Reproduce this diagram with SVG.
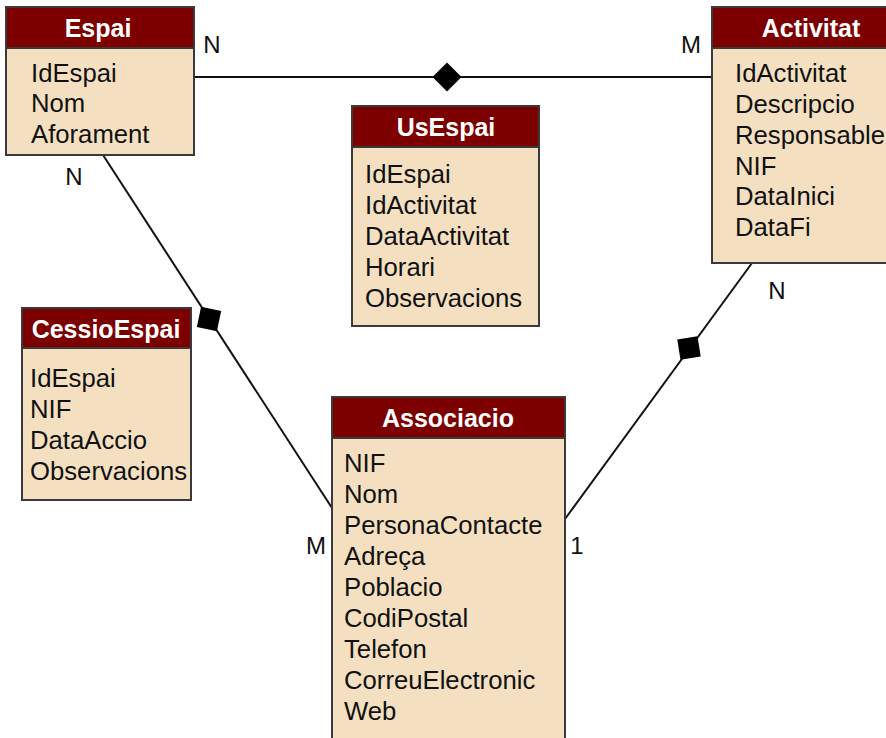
<svg xmlns="http://www.w3.org/2000/svg" width="886" height="738" viewBox="0 0 886 738">
  <style>
    .box { fill: #f4e0c1; stroke: #3a3a3a; stroke-width: 2; }
    .head { fill: #7d0000; stroke: #3a3a3a; stroke-width: 2; }
    .title { font-family: "Liberation Sans", Arial, sans-serif; font-size: 25px; font-weight: bold; fill: #ffffff; text-anchor: middle; }
    .attr { font-family: "Liberation Sans", Arial, sans-serif; font-size: 25.7px; fill: #111111; }
    .card { font-family: "Liberation Sans", Arial, sans-serif; font-size: 24px; fill: #111111; text-anchor: middle; }
    .link { stroke: #111111; stroke-width: 2; fill: none; }
    .dia { fill: #000000; }
  </style>
  <defs>
    <path id="diamond" d="M-14.5,0 L0,-14.5 L14.5,0 L0,14.5 Z"/>
  </defs>
  <rect width="886" height="738" fill="#ffffff"/>

  <!-- relationships -->
  <g id="connectors">
    <line class="link" x1="194" y1="77" x2="712" y2="77"/>
    <use href="#diamond" class="dia" transform="translate(447,77)"/>
    <line class="link" x1="103" y1="155" x2="332" y2="508"/>
    <use href="#diamond" class="dia" transform="translate(209,319) rotate(57)"/>
    <line class="link" x1="752" y1="263" x2="565" y2="519"/>
    <use href="#diamond" class="dia" transform="translate(689,348) rotate(126)"/>
    <text class="card" x="212" y="53">N</text>
    <text class="card" x="691" y="53">M</text>
    <text class="card" x="74" y="185">N</text>
    <text class="card" x="316" y="554">M</text>
    <text class="card" x="777" y="299">N</text>
    <text class="card" x="577" y="554">1</text>
  </g>

  <g id="espai">
    <rect class="box" x="6" y="7" width="188" height="148"/>
    <rect class="head" x="6" y="7" width="188" height="41"/>
    <text class="title" x="98" y="37">Espai</text>
    <text class="attr" x="31" y="82">IdEspai</text>
    <text class="attr" x="31" y="112">Nom</text>
    <text class="attr" x="31" y="143">Aforament</text>
  </g>

  <g id="activitat">
    <rect class="box" x="712" y="7" width="198" height="256"/>
    <rect class="head" x="712" y="7" width="198" height="41"/>
    <text class="title" x="811" y="37">Activitat</text>
    <text class="attr" x="735" y="82">IdActivitat</text>
    <text class="attr" x="735" y="113">Descripcio</text>
    <text class="attr" x="735" y="144">Responsable</text>
    <text class="attr" x="735" y="175">NIF</text>
    <text class="attr" x="735" y="205">DataInici</text>
    <text class="attr" x="735" y="236">DataFi</text>
  </g>

  <g id="usespai">
    <rect class="box" x="352" y="106" width="187" height="220"/>
    <rect class="head" x="352" y="106" width="187" height="41"/>
    <text class="title" x="446" y="136">UsEspai</text>
    <text class="attr" x="365" y="183">IdEspai</text>
    <text class="attr" x="365" y="214">IdActivitat</text>
    <text class="attr" x="365" y="245">DataActivitat</text>
    <text class="attr" x="365" y="276">Horari</text>
    <text class="attr" x="365" y="307">Observacions</text>
  </g>

  <g id="cessioespai">
    <rect class="box" x="22" y="308" width="169" height="192"/>
    <rect class="head" x="22" y="308" width="169" height="40"/>
    <text class="title" x="106" y="338">CessioEspai</text>
    <text class="attr" x="30" y="387">IdEspai</text>
    <text class="attr" x="30" y="418">NIF</text>
    <text class="attr" x="30" y="449">DataAccio</text>
    <text class="attr" x="30" y="480">Observacions</text>
  </g>

  <g id="associacio">
    <rect class="box" x="332" y="397" width="233" height="350"/>
    <rect class="head" x="332" y="397" width="233" height="41"/>
    <text class="title" x="448" y="427">Associacio</text>
    <text class="attr" x="344" y="472">NIF</text>
    <text class="attr" x="344" y="503">Nom</text>
    <text class="attr" x="344" y="534">PersonaContacte</text>
    <text class="attr" x="344" y="565">Adreça</text>
    <text class="attr" x="344" y="596">Poblacio</text>
    <text class="attr" x="344" y="627">CodiPostal</text>
    <text class="attr" x="344" y="658">Telefon</text>
    <text class="attr" x="344" y="689">CorreuElectronic</text>
    <text class="attr" x="344" y="720">Web</text>
  </g>
</svg>
